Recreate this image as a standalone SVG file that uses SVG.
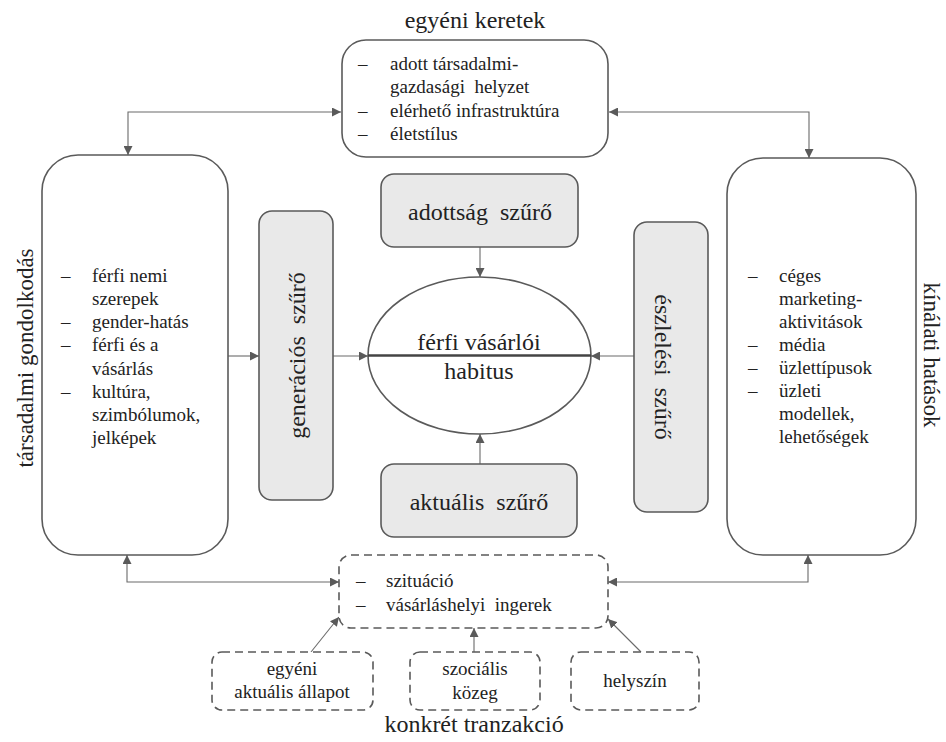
<svg xmlns="http://www.w3.org/2000/svg" width="946" height="742" viewBox="0 0 946 742">
<style>
text{font-family:'Liberation Serif', serif;fill:#222}
.box{fill:#fff;stroke:#5a5a5a;stroke-width:1.6}
.flt{fill:#e9e9e9;stroke:#5a5a5a;stroke-width:1.6}
.dash{fill:#fff;stroke:#5a5a5a;stroke-width:1.6;stroke-dasharray:8 5}
.li{font-size:19px}
.big{font-size:24px}
.side{font-size:23px}
.ttl{font-size:24px}
.con{fill:none;stroke:#6a6a6a;stroke-width:1.1}
</style>
<defs>
<marker id="ah" viewBox="0 0 10 10" refX="10" refY="5" markerWidth="9" markerHeight="9" markerUnits="userSpaceOnUse" orient="auto-start-reverse">
<path d="M0,0 L10,5 L0,10 z" fill="#5a5a5a"/>
</marker>
</defs>
<rect width="946" height="742" fill="#fff"/>

<g id="connectors">
<path class="con" d="M128,155 L128,112 L341,112" marker-start="url(#ah)" marker-end="url(#ah)"/>
<path class="con" d="M609,112 L809,112 L809,158" marker-start="url(#ah)" marker-end="url(#ah)"/>
<path class="con" d="M127,555 L127,582 L339,582" marker-start="url(#ah)" marker-end="url(#ah)"/>
<path class="con" d="M608,582 L808,582 L808,555" marker-start="url(#ah)" marker-end="url(#ah)"/>
<path class="con" d="M228,356 L259,356" marker-end="url(#ah)"/>
<path class="con" d="M333,356 L368,356" marker-end="url(#ah)"/>
<path class="con" d="M634,356 L591,356" marker-end="url(#ah)"/>
<path class="con" d="M480,247 L480,277" marker-end="url(#ah)"/>
<path class="con" d="M480,464 L480,434" marker-end="url(#ah)"/>
<path class="con" d="M311,652 L339,617" marker-end="url(#ah)"/>
<path class="con" d="M474,652 L474,628" marker-end="url(#ah)"/>
<path class="con" d="M641,652 L608,619" marker-end="url(#ah)"/>
</g>

<g id="egyeni-keretek">
<text class="ttl" x="475" y="28" text-anchor="middle">egyéni keretek</text>
<rect class="box" x="342" y="40" width="266" height="117" rx="24"/>
<text class="li" x="358" y="70">–</text><text class="li" x="390" y="70">adott társadalmi-</text>
<text class="li" x="390" y="93" xml:space="preserve">gazdasági  helyzet</text>
<text class="li" x="358" y="117">–</text><text class="li" x="390" y="117">elérhető infrastruktúra</text>
<text class="li" x="358" y="140">–</text><text class="li" x="390" y="140">életstílus</text>
</g>

<g id="tarsadalmi-gondolkodas">
<rect class="box" x="42" y="155" width="186" height="400" rx="36"/>
<text class="side" transform="translate(33,358) rotate(-90)" text-anchor="middle">társadalmi gondolkodás</text>
<text class="li" x="61" y="282">–</text><text class="li" x="92" y="282">férfi nemi</text>
<text class="li" x="92" y="305">szerepek</text>
<text class="li" x="61" y="328">–</text><text class="li" x="92" y="328">gender-hatás</text>
<text class="li" x="61" y="351">–</text><text class="li" x="92" y="351">férfi és a</text>
<text class="li" x="92" y="375">vásárlás</text>
<text class="li" x="61" y="398">–</text><text class="li" x="92" y="398">kultúra,</text>
<text class="li" x="92" y="421">szimbólumok,</text>
<text class="li" x="92" y="444">jelképek</text>
</g>

<g id="kinalati-hatasok">
<rect class="box" x="727" y="158" width="189" height="397" rx="36"/>
<text class="side" transform="translate(924,355) rotate(90)" text-anchor="middle">kínálati hatások</text>
<text class="li" x="748" y="282">–</text><text class="li" x="779" y="282">céges</text>
<text class="li" x="779" y="305">marketing-</text>
<text class="li" x="779" y="328">aktivitások</text>
<text class="li" x="748" y="351">–</text><text class="li" x="779" y="351">média</text>
<text class="li" x="748" y="374">–</text><text class="li" x="779" y="374">üzlettípusok</text>
<text class="li" x="748" y="397">–</text><text class="li" x="779" y="397">üzleti</text>
<text class="li" x="779" y="420">modellek,</text>
<text class="li" x="779" y="443">lehetőségek</text>
</g>

<g id="adottsag-szuro">
<rect class="flt" x="381" y="174" width="197" height="73" rx="13"/>
<text class="big" x="480" y="220" text-anchor="middle" xml:space="preserve">adottság  szűrő</text>
</g>

<g id="aktualis-szuro">
<rect class="flt" x="381" y="464" width="196" height="73" rx="13"/>
<text class="big" x="479" y="510" text-anchor="middle" xml:space="preserve">aktuális  szűrő</text>
</g>

<g id="generacios-szuro">
<rect class="flt" x="259" y="211" width="74" height="289" rx="13"/>
<text class="big" transform="translate(305,355.5) rotate(-90)" text-anchor="middle" xml:space="preserve">generációs  szűrő</text>
</g>

<g id="eszlelesi-szuro">
<rect class="flt" x="634" y="222" width="74" height="290" rx="13"/>
<text class="big" transform="translate(655,367) rotate(90)" text-anchor="middle" xml:space="preserve">észlelési  szűrő</text>
</g>

<g id="ferfi-vasarloi-habitus">
<ellipse cx="479.5" cy="355.5" rx="111.5" ry="78.5" fill="#fff" stroke="#5a5a5a" stroke-width="1.6"/>
<line x1="368" y1="355.5" x2="591" y2="355.5" stroke="#444" stroke-width="2.4"/>
<text class="big" x="479" y="350" text-anchor="middle">férfi vásárlói</text>
<text class="big" x="479" y="379" text-anchor="middle">habitus</text>
</g>

<g id="szituacio">
<rect class="dash" x="339" y="555" width="269" height="73" rx="12"/>
<text class="li" x="356" y="587">–</text><text class="li" x="386" y="587">szituáció</text>
<text class="li" x="356" y="611">–</text><text class="li" x="386" y="611" xml:space="preserve">vásárláshelyi  ingerek</text>
</g>

<g id="egyeni-aktualis-allapot">
<rect class="dash" x="212" y="652" width="161" height="58" rx="10"/>
<text class="li" x="292" y="675" text-anchor="middle">egyéni</text>
<text class="li" x="292" y="698" text-anchor="middle">aktuális állapot</text>
</g>

<g id="szocialis-kozeg">
<rect class="dash" x="410" y="652" width="130" height="58" rx="10"/>
<text class="li" x="475" y="675" text-anchor="middle">szociális</text>
<text class="li" x="475" y="699" text-anchor="middle">közeg</text>
</g>

<g id="helyszin">
<rect class="dash" x="571" y="652" width="128" height="58" rx="10"/>
<text class="li" x="635" y="687" text-anchor="middle">helyszín</text>
</g>

<text class="ttl" x="474" y="732" text-anchor="middle">konkrét tranzakció</text>
</svg>
